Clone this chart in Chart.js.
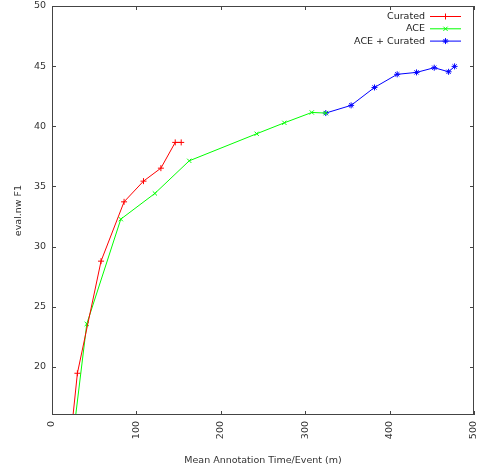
<!DOCTYPE html>
<html>
<head>
<meta charset="utf-8">
<script src="https://cdn.jsdelivr.net/npm/chart.js@4"></script>
<style>
  html, body { margin: 0; padding: 0; background: #ffffff; }
  #wrap { width: 478px; height: 466px; }
</style>
</head>
<body>
<div id="wrap"><canvas id="f1Chart" width="478" height="466"></canvas></div>
<script>
// values (time in minutes/event, F1)
const curatedTime = [22, 30.1, 58.1, 85.4, 108.4, 129.0, 146.0, 153.1];
const curatedF1 = [14.0, 19.47, 28.79, 33.72, 35.44, 36.52, 38.66, 38.66];
const aceTime = [25, 41.2, 81.5, 121.9, 162.6, 242.5, 275.3, 307.8, 324.4];
const aceF1 = [14.2, 23.57, 32.28, 34.42, 37.13, 39.38, 40.29, 41.15, 41.1];
const comboTime = [324.4, 354.4, 382.1, 409.0, 431.9, 452.9, 469.9, 477.0];
const comboF1 = [41.1, 41.74, 43.23, 44.32, 44.48, 44.87, 44.53, 44.98];
const seriesNames = ["Curated", "ACE", "ACE + Curated"];
const xTickValues = [0, 100, 200, 300, 400, 500];
const yTickValues = [20, 25, 30, 35, 40, 45, 50];

const FONT = "'DejaVu Sans', sans-serif";
const AXIS_COLOR = "#444444";

function toPoints(xs, ys) {
  return xs.map((x, i) => ({ x: x, y: ys[i] }));
}

function makeSet(label, xs, ys, color, style) {
  return {
    label: label,
    data: toPoints(xs, ys),
    borderColor: color,
    backgroundColor: color,
    borderWidth: 1,
    pointStyle: style,
    pointRadius: 3,
    pointBorderWidth: 1,
    pointHoverRadius: 3,
    tension: 0,
    fill: false,
  };
}

// box around plot area + gnuplot style inward ticks on all four sides
const framePlugin = {
  id: "frame",
  afterDatasetsDraw(chart) {
    const ctx = chart.ctx;
    const a = chart.chartArea;
    const xs = chart.scales.x;
    const ys = chart.scales.y;
    ctx.save();
    ctx.strokeStyle = AXIS_COLOR;
    ctx.lineWidth = 1;
    ctx.strokeRect(a.left + 0.5, a.top + 0.5, a.right - a.left - 1, a.bottom - a.top - 1);
    ctx.beginPath();
    xs.ticks.forEach((t) => {
      const px = Math.round(xs.getPixelForValue(t.value)) + 0.5;
      ctx.moveTo(px, a.bottom);
      ctx.lineTo(px, a.bottom - 4);
      ctx.moveTo(px, a.top);
      ctx.lineTo(px, a.top + 4);
    });
    ys.ticks.forEach((t) => {
      const py = Math.round(ys.getPixelForValue(t.value)) + 0.5;
      ctx.moveTo(a.left, py);
      ctx.lineTo(a.left + 4, py);
      ctx.moveTo(a.right, py);
      ctx.lineTo(a.right - 4, py);
    });
    ctx.stroke();
    ctx.restore();
  },
};

// legend inside top right corner: text on the left, line sample on the right
const keyPlugin = {
  id: "key",
  afterDraw(chart) {
    const ctx = chart.ctx;
    const a = chart.chartArea;
    const textRight = a.right - 49;
    const lineStart = a.right - 44;
    const lineEnd = a.right - 13;
    ctx.save();
    ctx.font = "9.5px " + FONT;
    ctx.textAlign = "right";
    ctx.textBaseline = "middle";
    chart.data.datasets.forEach((ds, i) => {
      const y = a.top + 10 + i * 12.3;
      ctx.fillStyle = "#222222";
      ctx.fillText(ds.label, textRight, y + 0.5);
      ctx.strokeStyle = ds.borderColor;
      ctx.lineWidth = 1;
      ctx.beginPath();
      ctx.moveTo(lineStart, y + 0.5);
      ctx.lineTo(lineEnd, y + 0.5);
      ctx.stroke();
      ctx.fillStyle = ds.borderColor;
      Chart.helpers.drawPoint(ctx, {
        pointStyle: ds.pointStyle,
        radius: 3,
        rotation: 0,
        borderWidth: 1,
      }, (lineStart + lineEnd) / 2, y + 0.5);
    });
    ctx.restore();
  },
};

const chartEl = document.getElementById("f1Chart");
const f1Chart = new Chart(chartEl.getContext("2d"), {
  type: "line",
  data: {
    datasets: [
      makeSet(seriesNames[0], curatedTime, curatedF1, "#ff0000", "cross"),
      makeSet(seriesNames[1], aceTime, aceF1, "#00ff00", "crossRot"),
      makeSet(seriesNames[2], comboTime, comboF1, "#0000ff", "star"),
    ],
  },
  options: {
    responsive: false,
    animation: false,
    devicePixelRatio: 1,
    layout: { padding: { top: 6, right: 4, left: 0, bottom: 0 } },
    plugins: {
      legend: { display: false },
      tooltip: { enabled: false },
    },
    scales: {
      x: {
        type: "linear",
        min: 0,
        max: 500,
        grid: { display: false, drawTicks: false },
        border: { display: false },
        afterBuildTicks: (scale) => {
          scale.ticks = xTickValues.map((v) => ({ value: v }));
        },
        afterFit: (scale) => {
          scale.height = 51;
          scale.paddingLeft = 0;
          scale.paddingRight = 0;
        },
        ticks: {
          minRotation: 90,
          maxRotation: 90,
          padding: 6,
          color: "#333333",
          font: { family: FONT, size: 9.5 },
        },
        title: {
          display: true,
          text: "Mean Annotation Time/Event (m)",
          color: "#333333",
          font: { family: FONT, size: 9.5 },
          padding: { top: 7, bottom: 0 },
        },
      },
      y: {
        type: "linear",
        min: 16,
        max: 50,
        grid: { display: false, drawTicks: false },
        border: { display: false },
        afterBuildTicks: (scale) => {
          scale.ticks = yTickValues.map((v) => ({ value: v }));
        },
        afterFit: (scale) => {
          scale.width = 52;
          scale.paddingTop = 0;
          scale.paddingBottom = 0;
        },
        ticks: {
          padding: 6,
          color: "#333333",
          font: { family: FONT, size: 9.5 },
        },
        title: {
          display: true,
          text: "eval.nw F1",
          color: "#333333",
          font: { family: FONT, size: 9.5 },
          padding: { top: 12.5, bottom: 0 },
        },
      },
    },
  },
  plugins: [framePlugin, keyPlugin],
});
</script>
</body>
</html>
